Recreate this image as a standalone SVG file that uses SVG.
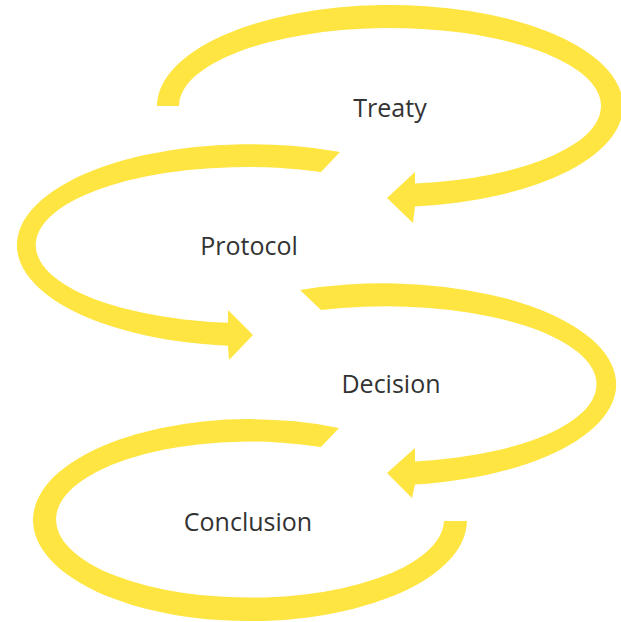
<svg xmlns="http://www.w3.org/2000/svg" width="621" height="622" viewBox="0 0 621 622">
<style>
.ring{fill:#FFE541;stroke:none}
.lbl{font-family:"Open Sans","Liberation Sans",sans-serif;font-size:25px;fill:#333333;text-anchor:middle}
</style>
<rect width="621" height="622" fill="#ffffff"/>
<g id="connectors">
<path id="c-treaty" class="ring" d="M157,106 A233,101 0 1 1 415,206.4 L413,223 L387,198 L415,172 L415,183.5 A211,78 0 1 0 179,106 Z"/>
<path id="c-protocol" class="ring" d="M340,152 A233,101 0 1 0 228,345.7 L229,360 L253,335 L228,310 L228,322.7 A211,78 0 1 1 321,172 Z"/>
<path id="c-decision" class="ring" d="M300,290 A233,101 0 1 1 415,484.4 L412,498 L387,473 L415,448 L415,461.5 A211,78 0 1 0 321,310 Z"/>
<path id="c-conclusion" class="ring" d="M339,428 A217,101 0 1 0 467,521 L444,521 A194,78 0 1 1 321,447 Z"/>
</g>
<g id="treaty"><text class="lbl" x="390" y="117">Treaty</text></g>
<g id="protocol"><text class="lbl" x="249" y="255">Protocol</text></g>
<g id="decision"><text class="lbl" x="391" y="393">Decision</text></g>
<g id="conclusion"><text class="lbl" x="248" y="531">Conclusion</text></g>
</svg>
